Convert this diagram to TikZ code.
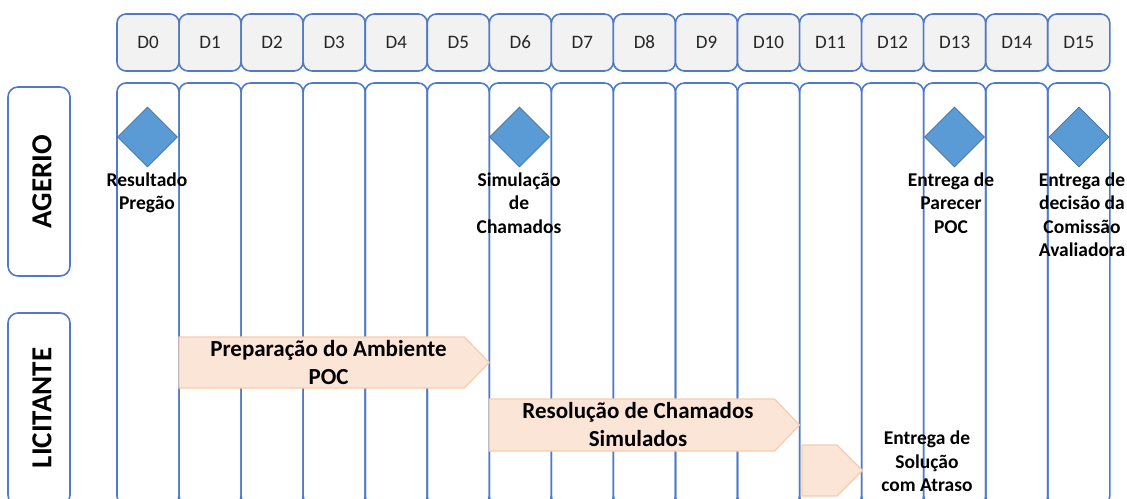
\documentclass[tikz,border=0pt]{standalone}
\usepackage{fontspec}
\setmainfont{Carlito}
\usetikzlibrary{shapes.geometric}
\definecolor{lane}{RGB}{78,122,200}
\definecolor{hdrfill}{RGB}{242,242,242}
\definecolor{dfill}{RGB}{91,155,213}
\definecolor{dline}{RGB}{65,113,156}
\definecolor{afill}{RGB}{251,229,214}
\definecolor{aline}{RGB}{248,203,173}
\begin{document}
\begin{tikzpicture}[x=1pt,y=-1pt,
  hdr/.style={draw=lane, fill=hdrfill, line width=1.6pt, rounded corners=9pt,
    minimum width=62.05pt, minimum height=57pt, inner sep=0pt,
    font=\fontsize{19}{23}\selectfont, text=black!85},
  col/.style={draw=lane, line width=1.6pt, rounded corners=9pt,
    minimum width=62.05pt, minimum height=422pt, inner sep=0pt},
  lanebox/.style={draw=lane, line width=1.6pt, rounded corners=10pt,
    minimum width=62pt, inner sep=0pt},
  lanetxt/.style={font=\fontsize{29}{35}\selectfont\bfseries, rotate=90, inner sep=0pt},
  ms/.style={diamond, aspect=1, minimum width=60pt, minimum height=60pt,
    inner sep=0pt, fill=dfill, draw=dline, line width=0.8pt},
  mlabel/.style={anchor=north, align=center, inner sep=0pt,
    font=\fontsize{19.5}{23.4}\selectfont\bfseries},
  phase/.style={fill=afill, draw=aline, line width=1.2pt},
  phasetxt/.style={align=center, inner sep=0pt,
    font=\fontsize{23}{28}\selectfont\bfseries}
]
\useasboundingbox (0,0) rectangle (1127,498);
\clip (0,0) rectangle (1127,498);

% header boxes and day columns
\foreach \i in {0,...,15} {
  \pgfmathsetmacro\cx{117+62.05*\i+31.025}
  \node[hdr] (h\i) at (\cx,42.5) {D\i};
  \node[col] (c\i) at (\cx,294) {};
}

% lane label boxes
\node[lanebox, minimum height=189pt] (agbox) at (39,181.5) {};
\node[lanetxt] (ag) at (42,181.5) {AGERIO};
\node[lanebox, minimum height=192pt] (libox) at (39,409) {};
\node[lanetxt] (li) at (42,408) {LICITANTE};

% phase arrows
\draw[phase] (179.05,337) -- (464.3,337) -- (489.3,362.5) -- (464.3,388) -- (179.05,388) -- cycle;
\node[phasetxt] (p1) at (328.5,363) {Preparação do Ambiente\\POC};
\draw[phase] (489.3,399) -- (774.55,399) -- (799.55,425) -- (774.55,451) -- (489.3,451) -- cycle;
\node[phasetxt] (p2) at (638,425) {Resolução de Chamados\\Simulados};
\draw[phase] (802,445) -- (837,445) -- (862.5,470.5) -- (837,496) -- (802,496) -- cycle;

% milestones
\node[ms] (m0) at (147.5,137) {};
\node[ms] (m6) at (519.5,137) {};
\node[ms] (m13) at (954.5,137) {};
\node[ms] (m15) at (1079,137) {};

\node[mlabel] (l0) at (147,172.5) {Resultado\\Pregão};
\node[mlabel] (l6) at (519,172.5) {Simulação\\de\\Chamados};
\node[mlabel] (l13) at (951,172.5) {Entrega de\\Parecer\\POC};
\node[mlabel] (l15) at (1082,172.5) {Entrega de\\decisão da\\Comissão\\Avaliadora};
\node[mlabel] (l11) at (927,431) {Entrega de\\Solução\\com Atraso};
\end{tikzpicture}
\end{document}
